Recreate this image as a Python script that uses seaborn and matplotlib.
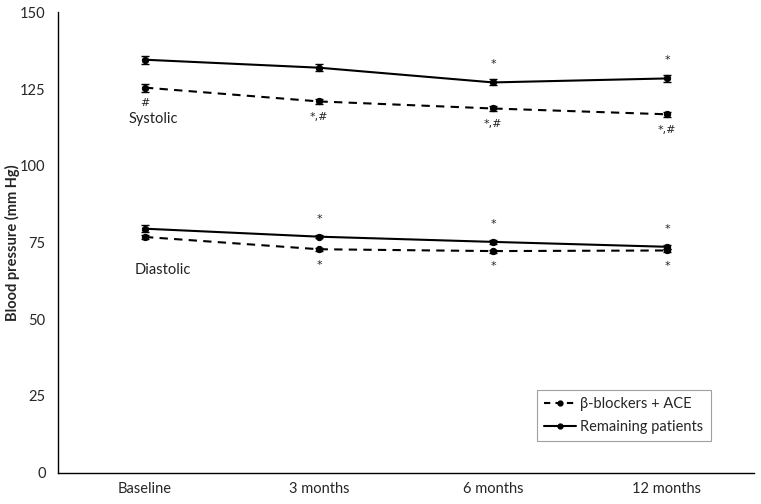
import numpy as np
import pandas as pd
import matplotlib
matplotlib.use("Agg")
import matplotlib.pyplot as plt
import seaborn as sns
from matplotlib.lines import Line2D

# ---- data ----
categories = ["Baseline", "3 months", "6 months", "12 months"]
groups = ["β-blockers + ACE", "Remaining patients"]

sys_beta = [125.5, 121.0, 118.7, 116.8]
sys_beta_err = [1.3, 0.7, 0.8, 0.9]
sys_rem = [134.6, 132.0, 127.2, 128.5]
sys_rem_err = [1.3, 1.2, 1.0, 1.0]

dia_beta = [76.8, 72.8, 72.2, 72.4]
dia_beta_err = [0.8, 0.5, 0.5, 0.6]
dia_rem = [79.5, 76.9, 75.2, 73.6]
dia_rem_err = [1.2, 0.5, 0.6, 0.7]

ann_sys_beta = ["#", "*,#", "*,#", "*,#"]   # below
ann_sys_rem = ["", "", "*", "*"]            # above
ann_dia_beta = ["", "*", "*", "*"]          # below
ann_dia_rem = ["", "*", "*", "*"]           # above

yticks = [0, 25, 50, 75, 100, 125, 150]

# ---- build table ----
rows = []
for measure, beta, beta_e, rem, rem_e in [
    ("Systolic", sys_beta, sys_beta_err, sys_rem, sys_rem_err),
    ("Diastolic", dia_beta, dia_beta_err, dia_rem, dia_rem_err),
]:
    for i, c in enumerate(categories):
        rows.append(dict(measure=measure, group=groups[0], t=i, value=beta[i], err=beta_e[i]))
        rows.append(dict(measure=measure, group=groups[1], t=i, value=rem[i], err=rem_e[i]))
df = pd.DataFrame(rows)

sns.set_theme(style="white")
plt.rcParams["font.family"] = ["Lato", "DejaVu Sans"]

fig = plt.figure(figsize=(7.61, 5.04), dpi=100)
ax = fig.add_axes([58 / 761, 1 - 472.5 / 504, 696 / 761, 460 / 504])

styles = {groups[0]: (0, (4, 3)), groups[1]: "-"}
for (measure, group), sub in df.groupby(["measure", "group"]):
    sns.lineplot(data=sub, x="t", y="value", ax=ax, color="black",
                 linewidth=1.5, linestyle=styles[group], marker="o",
                 markersize=4.5, markeredgecolor="black", legend=False)
    ax.errorbar(sub["t"], sub["value"], yerr=sub["err"], fmt="none",
                ecolor="black", elinewidth=1.0, capsize=3, capthick=1.0)

def annotate(vals, labels, above):
    for i, (v, lab) in enumerate(zip(vals, labels)):
        if not lab:
            continue
        ax.annotate(lab, (i, v), xytext=(0, 13 if above else -11),
                    textcoords="offset points", ha="center", va="center",
                    fontsize=8, color="#222222", family="DejaVu Sans")

annotate(sys_beta, ann_sys_beta, False)
annotate(sys_rem, ann_sys_rem, True)
annotate(dia_beta, ann_dia_beta, False)
annotate(dia_rem, ann_dia_rem, True)

ax.text(-0.092, 115.3, "Systolic", fontsize=10.5, va="center", ha="left", color="#222222")
ax.text(-0.057, 66.0, "Diastolic", fontsize=10.5, va="center", ha="left", color="#222222")

ax.set_xlim(-0.5, 3.5)
ax.set_ylim(0, 150)
ax.set_yticks(yticks)
ax.set_yticklabels([str(v) for v in yticks], fontsize=10.5)
ax.set_xticks([0.5, 1.5, 2.5, 3.5])
ax.set_xticklabels([])
ax.set_xticks(range(len(categories)), minor=True)
ax.set_xticklabels(categories, minor=True, fontsize=10.5)
ax.tick_params(axis="x", which="minor", length=0, pad=7)
ax.tick_params(axis="x", which="major", direction="out", length=4, width=1, color="black")
ax.tick_params(axis="y", direction="out", length=4, width=1, color="black", pad=5)
ax.set_xlabel("")
ax.set_ylabel("Blood pressure (mm Hg)", fontsize=10.5, fontweight="bold")
ax.yaxis.set_label_coords(-0.055, 0.5)

for s in ["top", "right"]:
    ax.spines[s].set_visible(False)
for s in ["left", "bottom"]:
    ax.spines[s].set_color("black")
    ax.spines[s].set_linewidth(1.0)

handles = [
    Line2D([0], [0], color="black", linestyle=(0, (3, 2.5)), linewidth=1.5, marker="o", markersize=3.5),
    Line2D([0], [0], color="black", linestyle="-", linewidth=1.5, marker="o", markersize=3.5),
]
leg = ax.legend(handles, groups, loc="lower right", bbox_to_anchor=(0.938, 0.068),
                borderaxespad=0, frameon=True, fancybox=False, fontsize=10.5,
                handlelength=2.2, handletextpad=0.3, borderpad=0.5, labelspacing=0.6)
leg.get_frame().set_edgecolor("#888888")
leg.get_frame().set_linewidth(0.8)

fig.savefig("out.png", dpi=100)
